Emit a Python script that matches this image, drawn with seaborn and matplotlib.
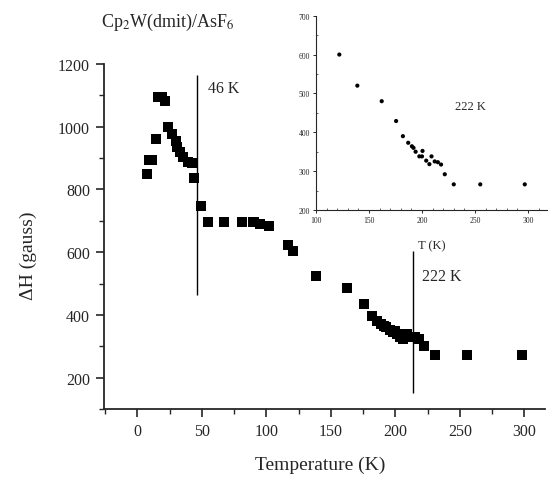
import matplotlib
matplotlib.use("Agg")
import matplotlib.pyplot as plt
import numpy as np
import pandas as pd
import seaborn as sns
from matplotlib.ticker import MultipleLocator

# ---- data ----
temp_k = [7, 9, 11, 14.5, 16, 19, 21.5, 23.5, 27, 29.5, 31, 33, 35.5, 39.5, 42.5, 44,
          49, 55, 67, 81, 90, 95, 102, 117, 121, 138.5, 162.5, 176,
          182, 186, 189, 191, 193, 196, 198, 200, 201, 204, 206, 209, 212, 215, 218, 222,
          231, 255.5, 298]
delta_h = [850, 893, 895, 960, 1095, 1095, 1082, 1000, 977, 956, 934, 919, 904, 889, 885, 837,
           748, 697, 696, 697, 696, 690, 683, 623, 605, 524, 485, 435,
           396, 380, 370, 366, 360, 352, 345, 350, 340, 330, 322, 338, 330, 328, 322, 302,
           273, 272, 272]

inset_temp = [122, 139, 162, 175.6, 182, 187, 190.5, 192, 194, 197.5, 200, 200.5, 204, 207,
              209, 212, 215, 218, 221.5, 230, 255, 297]
inset_dh = [600, 520, 480, 429, 390, 373, 364, 360, 350, 338, 338, 352, 327, 318,
            338, 325, 323, 317, 292, 266, 266, 266]

# transition markers: (temperature where line is drawn, y from, y to, label)
line_T = [46, 214]
line_lo = [465, 150]
line_hi = [1165, 605]
line_labels = ["46 K", "222 K"]

main_df = pd.DataFrame({"T": temp_k, "dH": delta_h})
inset_df = pd.DataFrame({"T": inset_temp, "dH": inset_dh})

sns.set_style("ticks")
plt.rcParams["font.family"] = ["Liberation Serif", "DejaVu Serif"]
plt.rcParams["mathtext.fontset"] = "stix"

fig = plt.figure(figsize=(5.49, 4.81), dpi=100)
ax = fig.add_axes([0.1894, 0.1476, 0.803, 0.7173])

sns.scatterplot(data=main_df, x="T", y="dH", marker="s", s=52, color="black",
                edgecolor="none", linewidth=0, ax=ax)

for t, lo, hi in zip(line_T, line_lo, line_hi):
    ax.vlines(t, lo, hi, color="black", linewidth=1.0)
ax.text(55, 1124, line_labels[0], fontsize=11.5, va="center", ha="left")
ax.text(221, 524, line_labels[1], fontsize=11.5, va="center", ha="left")

ax.set_xlim(-26, 316)
ax.set_ylim(100, 1200)
ax.xaxis.set_major_locator(MultipleLocator(50))
ax.xaxis.set_minor_locator(MultipleLocator(25))
ax.yaxis.set_major_locator(MultipleLocator(200))
ax.yaxis.set_minor_locator(MultipleLocator(100))
ax.set_yticks([200, 400, 600, 800, 1000, 1200])
ax.tick_params(which="major", direction="out", length=6, width=1.2, labelsize=11.5, pad=4)
ax.tick_params(which="minor", direction="out", length=3.5, width=1.0)
sns.despine(ax=ax)
for s in ["left", "bottom"]:
    ax.spines[s].set_linewidth(1.3)

ax.set_xlabel("Temperature (K)", fontsize=14)
ax.set_ylabel("ΔH (gauss)", fontsize=14)
ax.xaxis.set_label_coords(0.49, -0.135)
ax.yaxis.set_label_coords(-0.152, 0.446)

fig.text(168 / 549, 1 - 22 / 481, r"Cp$_2$W(dmit)/AsF$_6$", fontsize=13,
         ha="center", va="center")

# ---- inset ----
ins = fig.add_axes([0.5756, 0.5613, 0.4208, 0.404])
sns.scatterplot(data=inset_df, x="T", y="dH", marker="o", s=9, color="black",
                edgecolor="none", linewidth=0, ax=ins)
ins.set_xlim(100, 318)
ins.set_ylim(200, 700)
ins.xaxis.set_major_locator(MultipleLocator(50))
ins.xaxis.set_minor_locator(MultipleLocator(10))
ins.yaxis.set_major_locator(MultipleLocator(100))
ins.yaxis.set_minor_locator(MultipleLocator(50))
ins.tick_params(which="major", direction="out", length=2.5, width=0.7, labelsize=5.5, pad=2)
ins.tick_params(which="minor", direction="in", length=1.2, width=0.5)
sns.despine(ax=ins)
for s in ["left", "bottom"]:
    ins.spines[s].set_linewidth(0.8)
ins.set_facecolor("none")
ins.set_xlabel("T (K)", fontsize=9, labelpad=11)
ins.set_ylabel("")
ins.text(231, 467, line_labels[1], fontsize=9, va="center", ha="left")

fig.savefig("out.png", dpi=100)
